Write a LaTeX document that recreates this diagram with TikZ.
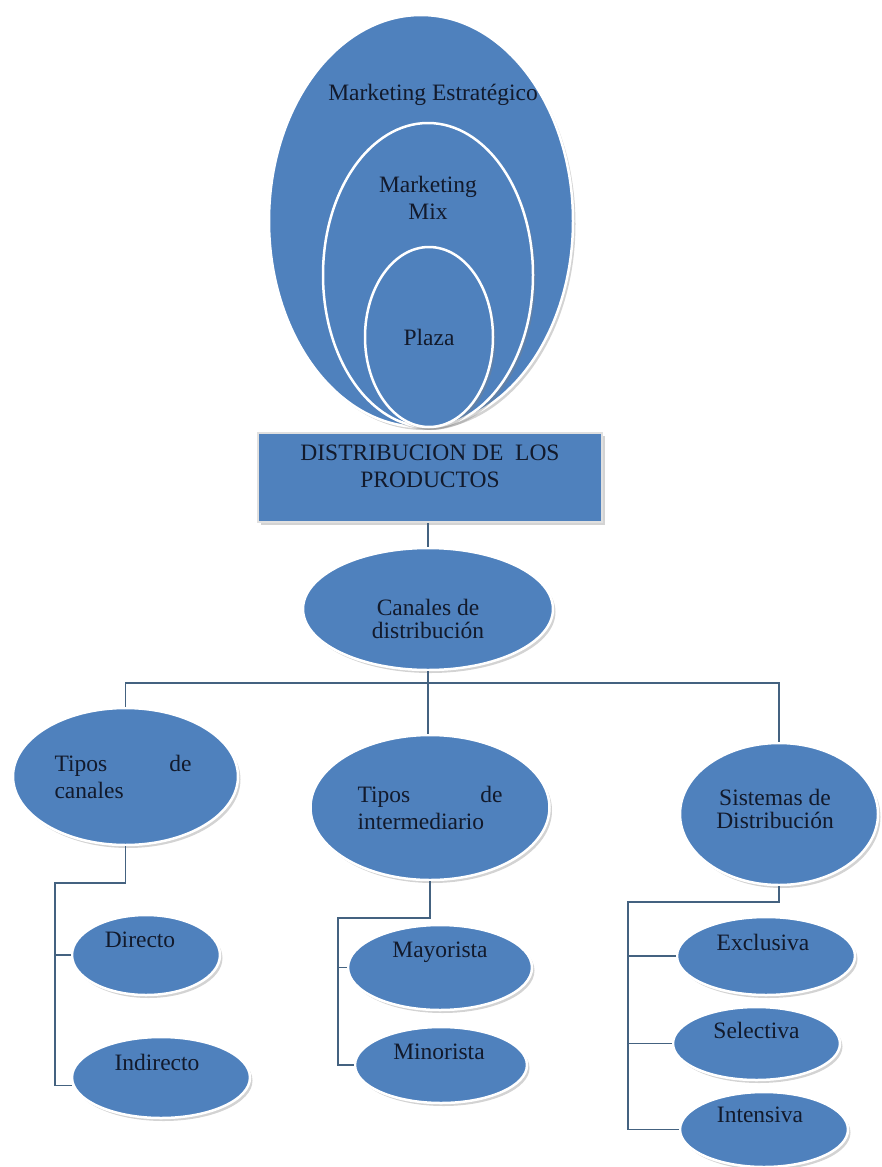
\documentclass[tikz,border=0pt]{standalone}
\usepackage{fontspec}
\setmainfont{Liberation Serif}
\usetikzlibrary{shapes.geometric,shadows,positioning}
\definecolor{ovalblue}{RGB}{79,129,189}
\definecolor{linkcol}{RGB}{68,98,128}
\definecolor{inkcol}{RGB}{18,26,44}
\tikzset{
  oval/.style={ellipse,fill=ovalblue,draw=white,line width=2.5pt,inner sep=0pt,
    drop shadow={shadow xshift=2.5pt,shadow yshift=-3pt,fill=black!50,opacity=.35}},
  dims/.style 2 args={minimum width=#1pt,minimum height=#2pt},
  link/.style={draw=linkcol,line width=1.2pt},
}

\begin{document}
\begin{tikzpicture}[x=1pt,y=-1pt,
  every label/.style={font=\fontsize{23.5}{27}\selectfont,text=inkcol,inner sep=0pt}]
\useasboundingbox (0,0) rectangle (881,1167);
% nested ovals
\node[oval,dims={304}{412},label={[xshift=12pt,yshift=126pt]center:Marketing Estratégico}] (mest) at (421,221) {};
\node[oval,dims={210}{304},label={[align=center,yshift=77pt]center:Marketing\\Mix}] (mmix) at (428,275) {};
\node[oval,dims={128}{180},label={center:Plaza}] (plaza) at (429,337) {};
% main box
\node[rectangle,fill=ovalblue,draw=black!12,line width=2pt,dims={344}{89},
  drop shadow={shadow xshift=3pt,shadow yshift=-3pt,fill=black!50,opacity=.35},
  label={[align=center,yshift=11pt]center:DISTRIBUCION DE\ \ LOS\\PRODUCTOS}] (dist) at (430,477.5) {};
\node[oval,dims={250}{122},label={[align=center,yshift=-10pt,font=\fontsize{23.5}{23}\selectfont]center:Canales de\\distribución}] (canales) at (428,609) {};
% second level
\node[oval,dims={225}{137},label={[align=left,xshift=-2.5pt]center:\makebox[137pt][s]{Tipos de}\\canales}] (tcan) at (125.5,776.5) {};
\node[oval,dims={239}{145},label={[align=left]center:\makebox[145pt][s]{Tipos de}\\intermediario}] (tint) at (430,807.5) {};
\node[oval,dims={198}{142},label={[align=center,xshift=-4pt,yshift=5pt,font=\fontsize{23.5}{23}\selectfont]center:Sistemas de\\Distribución}] (sis) at (779,814) {};
% third level
\node[oval,dims={148}{80},label={[xshift=-6pt,yshift=15pt]center:Directo}] (dir) at (146,955) {};
\node[oval,dims={178}{81},label={[xshift=-4pt,yshift=15pt]center:Indirecto}] (ind) at (161,1077.5) {};
\node[oval,dims={184}{85},label={[yshift=15pt]center:Mayorista}] (may) at (440,967.5) {};
\node[oval,dims={172}{76},label={[xshift=-2pt,yshift=13pt]center:Minorista}] (min) at (441,1065) {};
\node[oval,dims={178}{78},label={[xshift=-3pt,yshift=14pt]center:Exclusiva}] (exc) at (766,956) {};
\node[oval,dims={167}{73},label={[yshift=13pt]center:Selectiva}] (sel) at (756.5,1043.5) {};
\node[oval,dims={168}{75},label={[xshift=-4pt,yshift=15pt]center:Intensiva}] (int) at (764,1129.5) {};
% connectors
\coordinate (bus) at (428,683);
\draw[link] (canales.north |- dist.south) -- (canales.north);
\draw[link] (tcan.north) |- (bus) -| (sis.north);
\draw[link] (canales.south) -- (canales.south |- tint.north);
\coordinate (jl) at (55,883);
\draw[link] (tcan.south) |- (jl) |- (ind.185);
\draw[link] (jl |- dir.west) -- (dir.west);
\coordinate (jm) at (338,918);
\draw[link] (tint.south) |- (jm) |- (min.west);
\draw[link] (jm |- may.west) -- (may.west);
\coordinate (jr) at (628,902);
\draw[link] (sis.south) |- (jr) |- (int.west);
\draw[link] (jr |- exc.west) -- (exc.west);
\draw[link] (jr |- sel.west) -- (sel.west);
\end{tikzpicture}
\end{document}
